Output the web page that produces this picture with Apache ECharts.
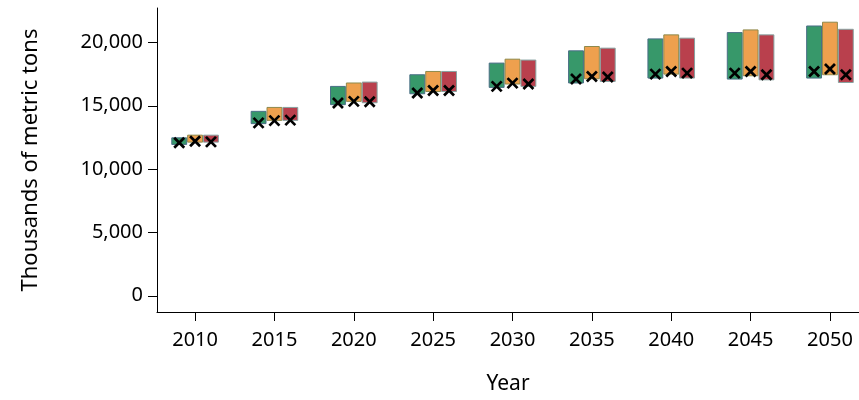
<!DOCTYPE html>
<html>
<head>
<meta charset="utf-8">
<script src="https://cdn.jsdelivr.net/npm/echarts@6/dist/echarts.min.js"></script>
<style>
  html, body { margin: 0; padding: 0; background: #fff; }
  #chart { width: 859px; height: 400px; }
</style>
</head>
<body>
<div id="chart"></div>
<script>
// Projection years (group centres on the x axis)
const years = [2010, 2015, 2020, 2025, 2030, 2035, 2040, 2045, 2050];

// Green projection: range and point estimate (thousands of metric tons)
const greenHigh = [12470, 14560, 16530, 17450, 18370, 19340, 20280, 20780, 21300];
const greenLow  = [11950, 13590, 15090, 15950, 16450, 16800, 17190, 17110, 17190];
const greenMark = [12080, 13650, 15220, 16010, 16530, 17110, 17500, 17580, 17710];

// Orange projection
const orangeHigh = [12680, 14870, 16800, 17710, 18680, 19680, 20600, 20990, 21600];
const orangeLow  = [12130, 13850, 15350, 16130, 16720, 17130, 17500, 17370, 17450];
const orangeMark = [12200, 13830, 15350, 16210, 16790, 17310, 17710, 17710, 17900];

// Red projection
const redHigh = [12680, 14870, 16870, 17710, 18610, 19550, 20340, 20600, 21040];
const redLow  = [12130, 13850, 15240, 16130, 16530, 16920, 17190, 17050, 16840];
const redMark = [12150, 13870, 15320, 16210, 16720, 17270, 17580, 17450, 17450];

// Axis tick values
const yTicks = [0, 5000, 10000, 15000, 20000];
const xTicks = years;

const groups = [
  { name: 'green',  offset: -1, low: greenLow,  high: greenHigh,  mark: greenMark,  fill: '#37986a', edge: '#4a6e86' },
  { name: 'orange', offset:  0, low: orangeLow, high: orangeHigh, mark: orangeMark, fill: '#eea04e', edge: '#8e8a4c' },
  { name: 'red',    offset:  1, low: redLow,    high: redHigh,    mark: redMark,    fill: '#b9404d', edge: '#86a2a0' }
];

const series = [];
groups.forEach(g => {
  // floating range bars, one year wide, centred on year + offset
  series.push({
    type: 'custom',
    name: g.name + ' range',
    data: years.map((y, i) => [y + g.offset, g.low[i], g.high[i]]),
    encode: { x: 0, y: [1, 2] },
    renderItem: function (params, api) {
      const x = api.value(0);
      const p0 = api.coord([x - 0.5, api.value(2)]);
      const p1 = api.coord([x + 0.5, api.value(1)]);
      return {
        type: 'rect',
        shape: { x: p0[0] + 0.5, y: p0[1], width: p1[0] - p0[0] - 1, height: p1[1] - p0[1] },
        style: { fill: g.fill, stroke: g.edge, lineWidth: 1 }
      };
    },
    z: 2
  });
});
groups.forEach(g => {
  // point estimate drawn as a black cross
  series.push({
    type: 'custom',
    name: g.name + ' estimate',
    data: years.map((y, i) => [y + g.offset, g.mark[i]]),
    encode: { x: 0, y: 1 },
    renderItem: function (params, api) {
      const c = api.coord([api.value(0), api.value(1)]);
      const r = 5;
      return {
        type: 'group',
        children: [
          { type: 'line', shape: { x1: c[0] - r, y1: c[1] - r, x2: c[0] + r, y2: c[1] + r },
            style: { stroke: '#000', lineWidth: 2.7 } },
          { type: 'line', shape: { x1: c[0] - r, y1: c[1] + r, x2: c[0] + r, y2: c[1] - r },
            style: { stroke: '#000', lineWidth: 2.7 } }
        ]
      };
    },
    z: 3
  });
});

const font = 'Noto Sans';
const chart = echarts.init(document.getElementById('chart'));
chart.setOption({
  animation: false,
  backgroundColor: '#ffffff',
  grid: { left: 157, right: 0, top: 8, bottom: 87, containLabel: false },
  xAxis: {
    type: 'value',
    min: 2007.6,
    max: 2051.83,
    name: 'Year',
    nameLocation: 'middle',
    nameGap: 62,
    nameTextStyle: { fontFamily: font, fontSize: 21, color: '#000' },
    axisLine: { show: true, onZero: false, lineStyle: { color: '#000', width: 1 } },
    axisTick: { show: true, length: 9, lineStyle: { color: '#000' }, customValues: xTicks },
    axisLabel: { fontFamily: font, fontSize: 20, color: '#000', margin: 18, customValues: xTicks,
                 formatter: v => String(v) },
    splitLine: { show: false }
  },
  yAxis: {
    type: 'value',
    min: -1283,
    max: 22721,
    name: 'Thousands of metric tons',
    nameLocation: 'middle',
    nameGap: 115,
    nameTextStyle: { fontFamily: font, fontSize: 22, color: '#000' },
    axisLine: { show: true, onZero: false, lineStyle: { color: '#000', width: 1 } },
    axisTick: { show: true, length: 9, lineStyle: { color: '#000' }, customValues: yTicks },
    axisLabel: { fontFamily: font, fontSize: 20, color: '#000', margin: 14, customValues: yTicks,
                 formatter: v => v.toLocaleString('en-US') },
    splitLine: { show: false }
  },
  series: series
});
</script>
</body>
</html>
